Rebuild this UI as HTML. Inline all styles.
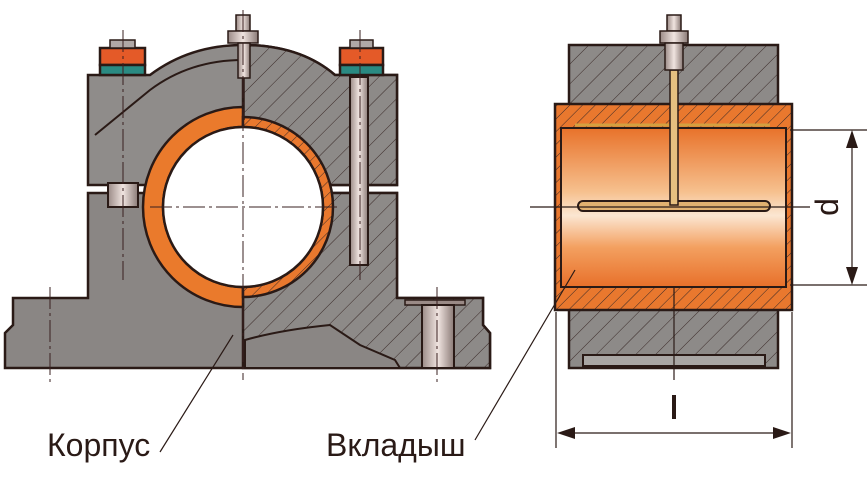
<!DOCTYPE html>
<html><head><meta charset="utf-8"><style>
html,body{margin:0;padding:0;background:#fff;}
svg{display:block;}
text{font-family:"Liberation Sans",sans-serif;fill:#2a1a16;}
</style></head><body>
<svg width="867" height="482" viewBox="0 0 867 482" xmlns="http://www.w3.org/2000/svg">
<defs>
<pattern id="h" patternUnits="userSpaceOnUse" width="14" height="14" patternTransform="rotate(45)">
<rect width="14" height="14" fill="#8d8a88"/><line x1="0" y1="0" x2="0" y2="14" stroke="#3a2a28" stroke-width="1"/>
</pattern>
<pattern id="ho" patternUnits="userSpaceOnUse" width="9" height="9" patternTransform="rotate(45)">
<rect width="9" height="9" fill="#e9782e"/><line x1="0" y1="0" x2="0" y2="9" stroke="#3a2a28" stroke-width="1"/>
</pattern>
<linearGradient id="og" x1="0" y1="0" x2="0" y2="1">
<stop offset="0" stop-color="#e8722a"/><stop offset="0.4" stop-color="#f6c08e"/><stop offset="0.55" stop-color="#fbe6d2"/><stop offset="0.75" stop-color="#f3a060"/><stop offset="1" stop-color="#e8702a"/>
</linearGradient>
<linearGradient id="bolt" x1="0" y1="0" x2="1" y2="0">
<stop offset="0" stop-color="#9a8a86"/><stop offset="0.5" stop-color="#f0e4e0"/><stop offset="1" stop-color="#8a7a76"/>
</linearGradient>
</defs>
<g stroke="#2a1a16" stroke-width="2.5">
<path d="M88 193 H397 V298 H483 V325 L490 333 V368 H5 V333 L13 325 V298 H88 Z" fill="#8a8684"/>
<path d="M243 193 H397 V298 H483 V325 L490 333 V368 H243 Z" fill="url(#h)"/>
<path d="M245 355 L245 340 Q280 330 330 325 L360 345 L395 360 L400 368 H245 Z" fill="#8a8684" stroke-width="2"/>
<path d="M88 75 H150 Q190 45 243 45 Q300 45 335 75 H397 V185 H88 Z" fill="#8f8c8a"/>
<path d="M243 45 Q300 45 335 75 H397 V185 H243 Z" fill="url(#h)"/>
<path d="M95 135 L150 90 Q190 60 243 60" fill="none" stroke-width="2"/>
<circle cx="243" cy="207" r="80" fill="#fff" stroke="none"/>
<path d="M243 107 A100 100 0 0 0 243 307 V287 A80 80 0 0 1 243 127 Z" fill="#ea7a2c"/>
<path d="M243 117 A90 90 0 0 1 243 297 V287 A80 80 0 0 0 243 127 Z" fill="url(#ho)"/>
<circle cx="243" cy="207" r="80" fill="#fff"/>
<rect x="108" y="183" width="30" height="24" fill="url(#bolt)" stroke-width="2"/>
<rect x="350" y="77" width="18" height="188" fill="url(#bolt)" stroke-width="2"/>
<rect x="100" y="48" width="45" height="17" fill="#e45a28"/>
<rect x="100" y="65" width="45" height="10" fill="#2a8a82"/>
<rect x="110" y="40" width="25" height="8" fill="#b0a8a6" stroke-width="1.5"/>
<rect x="340" y="48" width="43" height="17" fill="#e45a28"/>
<rect x="340" y="65" width="43" height="10" fill="#2a8a82"/>
<rect x="350" y="40" width="23" height="8" fill="#b0a8a6" stroke-width="1.5"/>
<rect x="236" y="15" width="14" height="16" fill="url(#bolt)" stroke-width="1.5"/>
<rect x="228" y="31" width="30" height="12" fill="url(#bolt)" stroke-width="1.5"/>
<rect x="238" y="43" width="12" height="35" fill="url(#bolt)" stroke-width="1.5"/>
<line x1="244" y1="78" x2="244" y2="120" stroke-width="1.5"/>
<rect x="405" y="300" width="60" height="5" fill="#9a8a86" stroke-width="1.5"/>
<rect x="422" y="305" width="32" height="63" fill="url(#bolt)" stroke-width="2"/>
</g>
<g stroke="#3a2020" stroke-width="1" fill="none" stroke-dasharray="22 4 3 4">
<line x1="243" y1="10" x2="243" y2="380"/>
<line x1="150" y1="207" x2="340" y2="207"/>
<line x1="123" y1="30" x2="123" y2="280"/>
<line x1="360" y1="30" x2="360" y2="280"/>
<line x1="50" y1="287" x2="50" y2="382"/>
<line x1="437" y1="287" x2="437" y2="382"/>
</g>

<g stroke="#2a1a16" stroke-width="2.5">
<rect x="569" y="45" width="209" height="62" fill="url(#h)"/>
<rect x="569" y="298" width="209" height="70" fill="url(#h)"/>
<rect x="583" y="355" width="182" height="11" fill="#a9a6a4" stroke-width="2"/>
<path d="M555 104 H792 V310 H555 Z" fill="url(#ho)"/>
<rect x="561" y="128" width="225" height="159" fill="url(#og)" stroke-width="2"/>
<line x1="575" y1="125" x2="770" y2="125" stroke="#d4a040" stroke-width="3"/>
<rect x="578" y="201" width="192" height="10" rx="5" fill="#e0b070" stroke-width="2"/>
<rect x="670" y="70" width="8" height="135" fill="#e6c080" stroke-width="1.5"/>
<rect x="667" y="15" width="14" height="16" fill="url(#bolt)" stroke-width="1.5"/>
<rect x="660" y="31" width="28" height="12" fill="url(#bolt)" stroke-width="1.5"/>
<rect x="665" y="43" width="18" height="27" fill="url(#bolt)" stroke-width="1.5"/>
</g>
<g stroke="#2a1a16" stroke-width="1.2" fill="none">
<line x1="530" y1="207" x2="810" y2="207"/>
<line x1="790" y1="130" x2="867" y2="130"/>
<line x1="790" y1="285" x2="867" y2="285"/>
<line x1="852" y1="140" x2="852" y2="275"/>
<line x1="556" y1="312" x2="556" y2="448"/>
<line x1="792" y1="312" x2="792" y2="448"/>
<line x1="567" y1="433" x2="782" y2="433"/>
<line x1="674" y1="288" x2="674" y2="380"/>
<line x1="233" y1="335" x2="160" y2="452"/>
<line x1="575" y1="270" x2="475" y2="440"/>
</g>
<g fill="#2a1a16">
<polygon points="852,130 846,148 858,148"/>
<polygon points="852,285 846,267 858,267"/>
<polygon points="557,433 575,427 575,439"/>
<polygon points="791,433 773,427 773,439"/>
</g>
<text x="0" y="0" font-size="32" transform="translate(838,207) rotate(-90)" text-anchor="middle">d</text>
<rect x="672" y="395" width="4" height="24" fill="#2a1a16"/>
<text x="47" y="456" font-size="32">Корпус</text>
<text x="326" y="456" font-size="32">Вкладыш</text>
</svg>
</body></html>
